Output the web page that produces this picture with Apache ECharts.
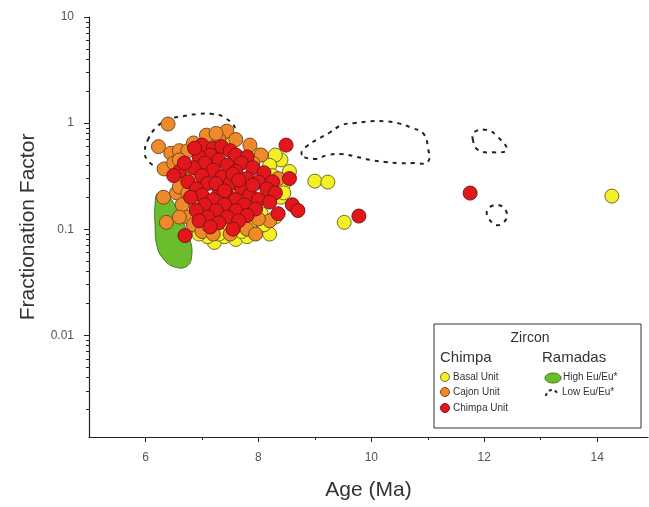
<!DOCTYPE html>
<html>
<head>
<meta charset="utf-8">
<script src="https://cdn.jsdelivr.net/npm/echarts@6/dist/echarts.min.js"></script>
<style>html,body{margin:0;padding:0;background:#fff}#c{width:649px;height:507px}</style>
</head>
<body>
<div id="c"></div>
<script>
// ---- data ----
const xTickLabels = [6, 8, 10, 12, 14];
const xMinorTicks = [7, 9, 11, 13];
const yTickLabels = [0.01, 0.1, 1, 10];
const yMinorTicks = [0.002,0.003,0.004,0.005,0.006,0.007,0.008,0.009,
  0.02,0.03,0.04,0.05,0.06,0.07,0.08,0.09,
  0.2,0.3,0.4,0.5,0.6,0.7,0.8,0.9,
  2,3,4,5,6,7,8,9];

const basalUnit = [
  [7.22,0.075],[7.4,0.085],[7.6,0.08],[7.8,0.085],[8.0,0.1],[8.2,0.09],[7.1,0.085],
  [8.3,0.13],[7.9,0.12],[8.1,0.11],[7.5,0.105],[8.4,0.45],[8.3,0.5],[8.55,0.35],
  [8.2,0.4],[8.45,0.27],[8.25,0.32],[8.0,0.5],[7.5,0.7],[9.0,0.284],[9.23,0.278],
  [9.52,0.116],[14.26,0.205],[6.95,0.09],[7.7,0.095],[8.05,0.14],[7.35,0.78],
  [8.4,0.2],[7.65,0.11],[8.45,0.22],[7.3,0.09]
];
const cajonUnit = [
  [6.4,0.98],[6.23,0.6],[6.45,0.52],[6.6,0.55],[6.75,0.55],[6.85,0.65],[7.08,0.77],
  [7.44,0.84],[7.85,0.62],[6.33,0.37],[6.5,0.42],[6.32,0.2],[6.37,0.116],[6.55,0.22],
  [6.65,0.17],[6.75,0.13],[6.85,0.11],[7.0,0.095],[7.2,0.09],[7.5,0.09],[7.8,0.1],
  [8.2,0.12],[7.95,0.09],[8.15,0.26],[8.35,0.3],[7.6,0.7],[7.3,0.7],[6.95,0.55],
  [6.6,0.25],[6.8,0.3],[7.7,0.14],[8.0,0.125],[6.6,0.45],[6.95,0.2],[8.05,0.5],
  [7.25,0.8],[6.75,0.22],[6.6,0.13],[7.9,0.42],[7.1,0.11],[6.9,0.17]
];
const chimpaUnit = [
  [7.0,0.62],[7.2,0.58],[7.35,0.6],[7.5,0.55],[7.15,0.5],[6.95,0.48],[7.6,0.5],
  [7.8,0.48],[7.3,0.45],[7.05,0.42],[7.45,0.4],[7.7,0.42],[6.85,0.38],[7.2,0.36],
  [7.6,0.35],[7.9,0.38],[8.1,0.34],[6.6,0.35],[7.0,0.32],[7.35,0.31],[7.8,0.3],
  [8.0,0.28],[8.25,0.28],[6.75,0.28],[7.1,0.27],[7.5,0.27],[6.9,0.24],[7.3,0.24],
  [7.7,0.24],[8.15,0.24],[7.0,0.21],[7.45,0.21],[7.85,0.21],[8.3,0.22],[6.8,0.2],
  [7.2,0.19],[7.6,0.19],[8.0,0.19],[7.05,0.17],[7.4,0.17],[7.75,0.17],[8.2,0.18],
  [6.9,0.15],[7.25,0.15],[7.6,0.15],[7.95,0.155],[7.1,0.13],[7.45,0.13],[7.8,0.135],
  [8.35,0.14],[6.95,0.12],[7.3,0.115],[7.65,0.12],[7.15,0.105],[7.55,0.1],[6.7,0.087],
  [6.5,0.32],[6.69,0.42],[6.87,0.58],[8.49,0.62],[8.55,0.3],[8.6,0.17],[8.7,0.15],
  [9.78,0.133],[11.75,0.219],[7.55,0.33],[7.25,0.27],[7.9,0.26],[7.4,0.23],[7.65,0.29]
];
const highEuRamadas = [[6.22,0.22],[6.17,0.17],[6.17,0.11],[6.20,0.071],[6.31,0.053],[6.52,0.044],
  [6.74,0.045],[6.82,0.057],[6.79,0.079],[6.65,0.122],[6.52,0.169],[6.38,0.21]];
const lowEuLoop1 = [[6.04,0.69],[6.20,0.92],[6.43,1.09],[6.66,1.16],[6.93,1.22],[7.18,1.22],[7.41,1.12],
  [7.59,0.86],[7.46,0.56],[6.97,0.40],[6.43,0.38],[6.20,0.39],[6.03,0.45],[5.99,0.55]];
const lowEuLoop2 = [[8.77,0.50],[8.83,0.59],[9.27,0.82],[9.48,0.96],[9.71,1.0],[9.98,1.04],[10.24,1.04],
  [10.47,1.0],[10.72,0.90],[10.92,0.80],[11.0,0.6],[11.0,0.43],[10.74,0.42],[10.51,0.42],[10.24,0.43],
  [9.98,0.45],[9.75,0.48],[9.48,0.51],[9.23,0.50],[9.0,0.46]];
const lowEuLoop3 = [[11.80,0.69],[11.82,0.82],[12.05,0.86],[12.24,0.74],[12.40,0.56],[12.16,0.53],[11.89,0.56]];
const lowEuLoop4 = [[12.10,0.162],[12.31,0.165],[12.40,0.13],[12.23,0.109],[12.05,0.136]];

// ---- chart ----
const FONT = 'Liberation Sans, Arial, sans-serif';
const chart = echarts.init(document.getElementById('c'), null, {renderer: 'canvas'});

function polygonSeries(data, style) {
  return {
    type: 'custom', xAxisIndex: 0, yAxisIndex: 0, data: data, silent: true,
    renderItem: function (params, api) {
      if (params.dataIndex !== 0) return null;
      const pts = data.map(p => api.coord(p));
      return {type: 'polygon', shape: {points: pts, smooth: 0.45}, style: style};
    }
  };
}
const dashStyle = {fill: 'none', stroke: '#222', lineWidth: 2, lineDash: [4, 5]};

const option = {
  animation: false,
  backgroundColor: '#fff',
  grid: {left: 89, top: 17, width: 559, height: 420, containLabel: false},
  xAxis: [{
    type: 'value', min: 5, max: 14.9,
    name: 'Age (Ma)', nameLocation: 'middle', nameGap: 43,
    nameTextStyle: {fontSize: 21, color: '#333', fontFamily: FONT},
    axisLine: {show: true, lineStyle: {color: '#222', width: 1.2}},
    axisTick: {show: true, length: 5, customValues: xTickLabels, lineStyle: {color: '#222'}},
    axisLabel: {customValues: xTickLabels, margin: 15, fontSize: 12, color: '#555', fontFamily: FONT},
    splitLine: {show: false}
  }, {
    type: 'value', min: 5, max: 14.9, position: 'bottom',
    axisLine: {show: false},
    axisTick: {show: true, length: 3, customValues: xMinorTicks, lineStyle: {color: '#222'}},
    axisLabel: {show: false}, splitLine: {show: false}
  }],
  yAxis: [{
    type: 'log', logBase: 10, min: 0.0011, max: 10,
    name: 'Fractionation Factor', nameLocation: 'middle', nameGap: 50,
    nameTextStyle: {fontSize: 21, color: '#333', fontFamily: FONT},
    axisLine: {show: true, lineStyle: {color: '#222', width: 1.2}},
    axisTick: {show: true, length: 5, customValues: yTickLabels, lineStyle: {color: '#222'}},
    axisLabel: {customValues: yTickLabels, margin: 15, fontSize: 12, color: '#555', fontFamily: FONT,
      formatter: v => String(+Number(v).toPrecision(3))},
    splitLine: {show: false}
  }, {
    type: 'log', logBase: 10, min: 0.0011, max: 10, position: 'left',
    axisLine: {show: false},
    axisTick: {show: true, length: 3, customValues: yMinorTicks, lineStyle: {color: '#222'}},
    axisLabel: {show: false}, splitLine: {show: false}
  }],
  series: [
    polygonSeries(highEuRamadas, {fill: '#6cbd2c', stroke: '#3d7a1c', lineWidth: 1}),
    polygonSeries(lowEuLoop1, dashStyle),
    polygonSeries(lowEuLoop2, dashStyle),
    polygonSeries(lowEuLoop3, dashStyle),
    polygonSeries(lowEuLoop4, dashStyle),
    {type: 'scatter', name: 'Basal Unit', data: basalUnit, symbolSize: 14,
     itemStyle: {color: '#f3f125', borderColor: '#6e6e28', borderWidth: 1, opacity: 1}},
    {type: 'scatter', name: 'Cajon Unit', data: cajonUnit, symbolSize: 14,
     itemStyle: {color: '#ef8a2a', borderColor: '#7a4a22', borderWidth: 1, opacity: 1}},
    {type: 'scatter', name: 'Chimpa Unit', data: chimpaUnit, symbolSize: 14,
     itemStyle: {color: '#e3161c', borderColor: '#7a1616', borderWidth: 1, opacity: 1}}
  ],
  graphic: [
    {type: 'rect', shape: {x: 434, y: 324, width: 207, height: 104},
     style: {fill: '#fff', stroke: '#333', lineWidth: 1}, z: 100},
    {type: 'text', x: 530, y: 338, z: 101, style: {text: 'Zircon', fontSize: 14, fill: '#333', fontFamily: FONT, align: 'center', verticalAlign: 'middle'}},
    {type: 'text', x: 440, y: 358, z: 101, style: {text: 'Chimpa', fontSize: 15, fill: '#333', fontFamily: FONT, verticalAlign: 'middle'}},
    {type: 'text', x: 542, y: 358, z: 101, style: {text: 'Ramadas', fontSize: 15, fill: '#333', fontFamily: FONT, verticalAlign: 'middle'}},
    {type: 'circle', shape: {cx: 445, cy: 377, r: 4.5}, z: 101, style: {fill: '#f3f125', stroke: '#6e6e28', lineWidth: 1}},
    {type: 'circle', shape: {cx: 445, cy: 392, r: 4.5}, z: 101, style: {fill: '#ef8a2a', stroke: '#7a4a22', lineWidth: 1}},
    {type: 'circle', shape: {cx: 445, cy: 408, r: 4.5}, z: 101, style: {fill: '#e3161c', stroke: '#7a1616', lineWidth: 1}},
    {type: 'text', x: 453, y: 377, z: 101, style: {text: 'Basal Unit', fontSize: 10, fill: '#333', fontFamily: FONT, verticalAlign: 'middle'}},
    {type: 'text', x: 453, y: 392, z: 101, style: {text: 'Cajon Unit', fontSize: 10, fill: '#333', fontFamily: FONT, verticalAlign: 'middle'}},
    {type: 'text', x: 453, y: 408, z: 101, style: {text: 'Chimpa Unit', fontSize: 10, fill: '#333', fontFamily: FONT, verticalAlign: 'middle'}},
    {type: 'ellipse', shape: {cx: 553, cy: 378, rx: 8, ry: 5}, z: 101, style: {fill: '#6cbd2c', stroke: '#3d7a1c', lineWidth: 1}},
    {type: 'text', x: 563, y: 377, z: 101, style: {text: 'High Eu/Eu*', fontSize: 10, fill: '#333', fontFamily: FONT, verticalAlign: 'middle'}},
    {type: 'arc', z: 101, shape: {cx: 552, cy: 396, r: 6, startAngle: Math.PI, endAngle: Math.PI * 1.85},
     style: {fill: 'none', stroke: '#222', lineWidth: 2, lineDash: [3, 3]}},
    {type: 'text', x: 562, y: 392, z: 101, style: {text: 'Low Eu/Eu*', fontSize: 10, fill: '#333', fontFamily: FONT, verticalAlign: 'middle'}}
  ]
};
chart.setOption(option);
</script>
</body>
</html>
